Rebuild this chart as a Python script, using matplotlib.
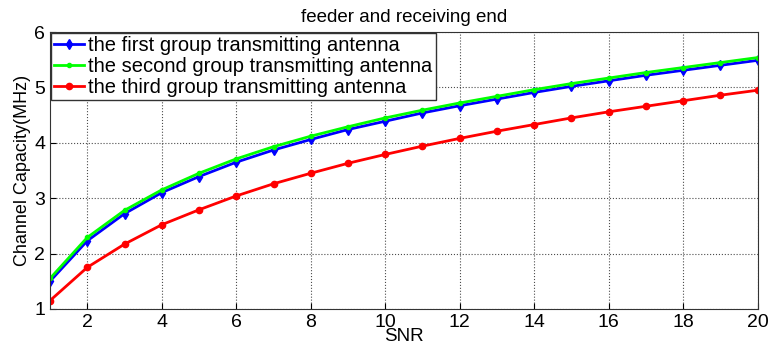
import numpy as np
from matplotlib import pyplot as plt

plt.rcParams['font.family'] = ['Liberation Sans', 'DejaVu Sans']

snr = np.arange(1, 21)
first = [1.50, 2.23, 2.72, 3.10, 3.39, 3.65, 3.87, 4.06, 4.24, 4.39,
         4.54, 4.67, 4.79, 4.91, 5.02, 5.12, 5.22, 5.31, 5.40, 5.49]
second = [1.55, 2.29, 2.78, 3.15, 3.45, 3.71, 3.93, 4.12, 4.29, 4.45,
          4.59, 4.72, 4.84, 4.96, 5.07, 5.17, 5.27, 5.36, 5.45, 5.54]
third = [1.15, 1.75, 2.17, 2.52, 2.79, 3.04, 3.26, 3.45, 3.63, 3.79,
         3.94, 4.08, 4.21, 4.33, 4.45, 4.56, 4.66, 4.76, 4.86, 4.95]

fig = plt.figure(figsize=(7.7, 3.49), dpi=100)
ax = fig.add_axes([0.065, 0.115, 0.919, 0.793])

ax.plot(snr, first, color='blue', lw=2, marker='d', ms=5, label='the first group transmitting antenna')
ax.plot(snr, second, color='#00ff00', lw=2, marker='.', ms=6, label='the second group transmitting antenna')
ax.plot(snr, third, color='red', lw=2, marker='o', ms=4.5, label='the third group transmitting antenna')

ax.set_xlim(1, 20)
ax.set_ylim(1, 6)
ax.set_xticks([2, 4, 6, 8, 10, 12, 14, 16, 18, 20])
ax.set_yticks([1, 2, 3, 4, 5, 6])
ax.grid(True, color='black', linestyle=':', linewidth=0.8, alpha=0.7)
ax.tick_params(labelsize=14, direction='in', length=4)
for s in ax.spines.values():
    s.set_color('#333333')

ax.set_xlabel('SNR', fontsize=13.5, labelpad=-2)
ax.set_ylabel('Channel Capacity(MHz)', fontsize=13, labelpad=2)
ax.set_title('feeder and receiving end', fontsize=13.5, pad=7)

leg = ax.legend(loc='upper left', fontsize=14.5, borderaxespad=0.05, handlelength=1.5,
                handletextpad=0.2, borderpad=0.15, labelspacing=0.1, fancybox=False,
                framealpha=1, edgecolor='#333333')

plt.savefig('out.png')
